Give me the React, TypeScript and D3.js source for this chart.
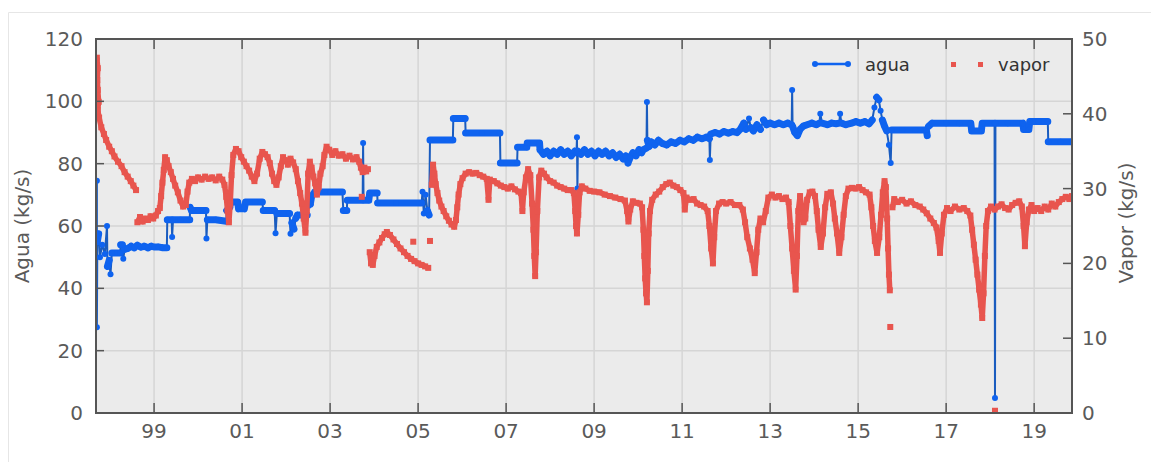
import React from 'react';
import * as d3 from 'd3';

const yearTicks = [1999, 2001, 2003, 2005, 2007, 2009, 2011, 2013, 2015, 2017, 2019];
const yearTickLabels = ['99', '01', '03', '05', '07', '09', '11', '13', '15', '17', '19'];
const aguaTicks = [0, 20, 40, 60, 80, 100, 120];
const vaporTicks = [0, 10, 20, 30, 40, 50];
const aguaGrid = [20, 40, 60, 80, 100];

// agua (kg/s), left axis: [year, value]
const agua: [number, number][] = [
  [1997.70, 74.5], [1997.70, 27.5], [1997.71, 55.0], [1997.74, 57.5], [1997.77, 50.0], [1997.82, 54.0],
  [1997.88, 51.0], [1997.93, 60.0], [1997.94, 47.0], [1997.98, 49.0], [1998.01, 44.5], [1998.04, 51.3],
  [1998.16, 51.3], [1998.23, 51.3], [1998.24, 54.0], [1998.28, 54.0], [1998.30, 49.5], [1998.33, 52.5],
  [1998.40, 52.8], [1998.48, 53.5], [1998.55, 53.0], [1998.62, 53.8], [1998.70, 53.2], [1998.78, 53.5],
  [1998.86, 53.0], [1998.93, 53.5], [1999.00, 53.3], [1999.10, 53.3], [1999.20, 53.0], [1999.29, 53.0],
  [1999.30, 62.0], [1999.40, 62.0], [1999.41, 56.5], [1999.43, 62.0], [1999.60, 62.0], [1999.81, 62.0],
  [1999.82, 66.0], [1999.85, 65.0], [2000.00, 65.0], [2000.18, 65.0], [2000.19, 56.0], [2000.21, 62.0],
  [2000.40, 62.0], [2000.64, 61.5], [2000.65, 65.0], [2000.72, 66.0], [2000.74, 67.7], [2000.90, 67.7],
  [2000.92, 65.5], [2001.05, 65.5], [2001.08, 67.7], [2001.30, 67.7], [2001.46, 67.7], [2001.48, 65.0],
  [2001.74, 65.0], [2001.76, 57.7], [2001.79, 64.0], [2002.08, 64.0], [2002.10, 57.5], [2002.13, 61.0],
  [2002.18, 59.0], [2002.22, 62.5], [2002.26, 63.5], [2002.48, 63.5], [2002.50, 66.5], [2002.55, 67.0],
  [2002.58, 69.5], [2002.65, 70.9], [2003.00, 70.9], [2003.28, 70.9], [2003.30, 65.0], [2003.38, 65.0],
  [2003.39, 68.3], [2003.74, 68.3], [2003.75, 86.6], [2003.76, 68.3], [2003.88, 68.3], [2003.90, 70.6],
  [2004.07, 70.6], [2004.08, 67.4], [2004.50, 67.4], [2005.08, 67.4], [2005.10, 71.0], [2005.13, 64.0],
  [2005.17, 70.0], [2005.21, 65.0], [2005.25, 63.5], [2005.27, 87.6], [2005.55, 87.6], [2005.79, 87.6],
  [2005.80, 94.5], [2006.07, 94.5], [2006.08, 89.8], [2006.45, 89.8], [2006.86, 89.8], [2006.87, 80.2],
  [2007.25, 80.2], [2007.26, 85.3], [2007.47, 85.3], [2007.48, 86.6], [2007.76, 86.6], [2007.77, 84.5],
  [2007.85, 83.0], [2007.93, 84.0], [2008.00, 82.5], [2008.08, 84.0], [2008.16, 83.0], [2008.24, 84.5],
  [2008.32, 83.0], [2008.40, 84.0], [2008.48, 82.5], [2008.56, 84.0], [2008.60, 83.5], [2008.61, 88.5],
  [2008.62, 72.0], [2008.63, 84.0], [2008.70, 83.0], [2008.78, 84.5], [2008.86, 83.0], [2008.94, 84.0],
  [2009.02, 82.5], [2009.10, 84.0], [2009.18, 83.0], [2009.26, 84.0], [2009.34, 82.5], [2009.42, 83.5],
  [2009.50, 82.0], [2009.58, 83.0], [2009.66, 81.5], [2009.72, 82.5], [2009.77, 80.2], [2009.82, 82.0],
  [2009.88, 83.5], [2009.95, 82.5], [2010.02, 84.5], [2010.08, 83.5], [2010.12, 84.5], [2010.19, 85.0],
  [2010.20, 99.8], [2010.21, 87.5], [2010.25, 85.5], [2010.30, 87.0], [2010.38, 86.0], [2010.46, 87.5],
  [2010.55, 86.5], [2010.65, 86.0], [2010.75, 87.0], [2010.85, 86.5], [2010.95, 87.5], [2011.05, 87.0],
  [2011.15, 88.0], [2011.25, 87.5], [2011.35, 88.5], [2011.45, 88.0], [2011.55, 88.5], [2011.62, 88.0],
  [2011.63, 81.2], [2011.65, 89.5], [2011.75, 90.0], [2011.85, 89.5], [2011.95, 90.3], [2012.05, 89.8],
  [2012.15, 90.3], [2012.25, 90.0], [2012.32, 91.0], [2012.40, 93.0], [2012.45, 91.0], [2012.52, 94.5],
  [2012.56, 91.5], [2012.62, 90.5], [2012.70, 92.5], [2012.78, 91.0], [2012.85, 94.0], [2012.92, 92.5],
  [2013.00, 93.0], [2013.10, 92.5], [2013.20, 93.0], [2013.30, 92.5], [2013.40, 93.0], [2013.49, 92.5],
  [2013.50, 103.6], [2013.51, 92.0], [2013.56, 90.0], [2013.62, 89.0], [2013.68, 91.0], [2013.75, 92.0],
  [2013.84, 92.5], [2013.95, 93.0], [2014.05, 92.5], [2014.12, 93.0], [2014.14, 96.0], [2014.18, 93.0],
  [2014.30, 92.5], [2014.40, 93.0], [2014.50, 92.8], [2014.57, 93.0], [2014.59, 96.0], [2014.62, 93.0],
  [2014.72, 92.5], [2014.85, 93.0], [2014.95, 93.5], [2015.05, 93.0], [2015.15, 93.5], [2015.25, 92.8],
  [2015.32, 94.0], [2015.37, 98.0], [2015.42, 101.3], [2015.47, 100.5], [2015.51, 97.0], [2015.55, 94.0],
  [2015.60, 92.0], [2015.65, 90.5], [2015.70, 86.0], [2015.74, 80.2], [2015.76, 90.8], [2016.00, 90.8],
  [2016.30, 90.8], [2016.55, 90.8], [2016.57, 89.0], [2016.60, 92.0], [2016.68, 93.0], [2017.00, 93.0],
  [2017.30, 93.0], [2017.56, 93.0], [2017.58, 90.5], [2017.80, 90.5], [2017.82, 93.0], [2018.10, 93.0],
  [2018.11, 4.8], [2018.12, 93.0], [2018.40, 93.0], [2018.74, 93.0], [2018.76, 91.0], [2018.88, 91.0],
  [2018.90, 93.5], [2019.10, 93.5], [2019.31, 93.5], [2019.32, 87.0], [2019.60, 87.0], [2019.86, 87.0],
];

// vapor (kg/s), right axis: [year, value]; null = gap between runs of dots
const vapor: ([number, number] | null)[] = [
  [1997.70, 47.5], [1997.72, 46.1], [1997.71, 44.5], [1997.72, 43.2], [1997.74, 41.6], [1997.72, 40.5],
  [1997.75, 39.5], [1997.80, 38.2], [1997.86, 37.3], [1997.91, 36.5], [1997.98, 35.6], [1998.04, 35.0],
  [1998.10, 34.3], [1998.18, 33.6], [1998.26, 33.0], [1998.33, 32.2], [1998.40, 31.6], [1998.47, 31.0],
  [1998.53, 30.4], [1998.59, 29.8], null,
  [1998.62, 25.5], [1998.68, 26.2], [1998.74, 25.6], [1998.80, 26.0], [1998.86, 25.8], [1998.92, 26.3],
  [1998.98, 26.0], [1999.04, 26.4], [1999.09, 27.0], [1999.13, 27.4], [1999.16, 29.0], [1999.19, 30.8],
  [1999.22, 32.5], [1999.25, 34.2], [1999.29, 33.8], [1999.33, 33.0], [1999.38, 32.2], [1999.43, 31.3],
  [1999.48, 30.4], [1999.54, 29.5], [1999.60, 28.4], [1999.66, 27.6], [1999.72, 27.8], [1999.76, 29.6],
  [1999.80, 30.8], [1999.86, 31.3], [1999.93, 31.0], [2000.00, 31.5], [2000.08, 31.2], [2000.16, 31.6],
  [2000.24, 31.3], [2000.32, 31.5], [2000.40, 31.1], [2000.48, 31.6], [2000.55, 31.2], [2000.60, 30.5],
  [2000.64, 28.9], [2000.67, 27.0], [2000.70, 25.5], [2000.73, 28.0], [2000.76, 31.8], [2000.80, 34.5],
  [2000.86, 35.3], [2000.92, 35.0], [2000.98, 34.2], [2001.04, 33.6], [2001.10, 33.0], [2001.16, 32.4],
  [2001.22, 31.6], [2001.28, 31.0], [2001.34, 32.0], [2001.40, 34.0], [2001.46, 34.9], [2001.52, 34.6],
  [2001.58, 34.2], [2001.63, 33.4], [2001.68, 32.0], [2001.73, 31.0], [2001.78, 30.5], [2001.83, 31.5],
  [2001.88, 33.0], [2001.93, 34.2], [2001.98, 33.8], [2002.04, 33.2], [2002.10, 34.0], [2002.16, 33.5],
  [2002.22, 32.6], [2002.27, 31.0], [2002.32, 29.4], [2002.36, 28.0], [2002.40, 26.0], [2002.44, 24.1],
  [2002.47, 27.0], [2002.50, 32.0], [2002.54, 33.6], [2002.58, 32.8], [2002.62, 31.6], [2002.66, 30.7],
  [2002.70, 29.2], [2002.74, 30.2], [2002.78, 32.0], [2002.83, 33.0], [2002.87, 34.5], [2002.92, 35.6],
  [2002.98, 35.2], [2003.05, 34.5], [2003.12, 35.0], [2003.20, 34.4], [2003.28, 34.6], [2003.36, 34.0],
  [2003.44, 34.4], [2003.52, 33.9], [2003.60, 34.2], [2003.66, 33.6], [2003.70, 32.8], [2003.74, 32.2],
  [2003.78, 32.8], [2003.82, 32.3], [2003.86, 32.6], null,
  [2003.72, 28.9], null,
  [2003.90, 21.5], [2003.93, 20.0], [2003.97, 19.8], [2004.01, 21.0], [2004.06, 22.2], [2004.12, 22.8],
  [2004.18, 23.4], [2004.24, 23.9], [2004.29, 24.2], [2004.36, 23.8], [2004.44, 23.2], [2004.52, 22.6],
  [2004.60, 22.0], [2004.68, 21.5], [2004.76, 21.0], [2004.84, 20.6], [2004.92, 20.3], [2005.00, 20.0],
  [2005.08, 19.8], [2005.16, 19.6], [2005.23, 19.4], null,
  [2004.89, 22.9], null,
  [2005.27, 23.0], null,
  [2005.31, 30.5], [2005.34, 33.2], [2005.37, 32.0], [2005.40, 30.6], [2005.44, 29.4], [2005.48, 28.4],
  [2005.53, 27.6], [2005.58, 27.0], [2005.64, 26.3], [2005.70, 25.7], [2005.76, 25.2], [2005.82, 24.9],
  [2005.86, 25.8], [2005.89, 27.5], [2005.92, 29.2], [2005.96, 30.6], [2006.01, 31.4], [2006.08, 32.0],
  [2006.16, 32.2], [2006.24, 32.0], [2006.32, 32.1], [2006.40, 31.8], [2006.48, 31.6], [2006.56, 31.3],
  [2006.60, 28.5], [2006.63, 31.2], [2006.72, 31.0], [2006.80, 30.7], [2006.88, 30.4], [2006.96, 30.2],
  [2007.04, 30.0], [2007.12, 30.3], [2007.20, 29.9], [2007.28, 29.6], [2007.34, 29.4], [2007.37, 27.0],
  [2007.40, 29.5], [2007.45, 31.5], [2007.50, 32.6], [2007.55, 31.8], [2007.59, 28.0], [2007.62, 24.5],
  [2007.64, 21.0], [2007.66, 18.3], [2007.68, 21.5], [2007.71, 27.0], [2007.75, 31.5], [2007.80, 32.4],
  [2007.86, 32.0], [2007.92, 31.5], [2008.00, 31.0], [2008.08, 30.8], [2008.16, 30.4], [2008.24, 30.2],
  [2008.32, 30.0], [2008.40, 29.8], [2008.48, 29.8], [2008.54, 29.4], [2008.57, 27.0], [2008.59, 25.0],
  [2008.61, 24.0], [2008.64, 26.5], [2008.67, 29.5], [2008.72, 30.3], [2008.80, 30.0], [2008.90, 29.7],
  [2009.00, 29.6], [2009.12, 29.5], [2009.24, 29.2], [2009.36, 29.0], [2009.48, 28.8], [2009.60, 28.6],
  [2009.70, 28.4], [2009.75, 27.0], [2009.78, 25.6], [2009.82, 27.2], [2009.88, 28.3], [2009.96, 28.1],
  [2010.04, 28.0], [2010.09, 27.5], [2010.12, 24.5], [2010.14, 21.0], [2010.16, 18.0], [2010.18, 16.0],
  [2010.20, 14.8], [2010.22, 19.0], [2010.24, 24.0], [2010.27, 27.0], [2010.32, 28.5], [2010.40, 29.2],
  [2010.48, 29.6], [2010.56, 30.2], [2010.64, 30.6], [2010.72, 30.8], [2010.80, 30.4], [2010.88, 30.2],
  [2010.96, 29.8], [2011.03, 29.4], [2011.06, 27.2], [2011.10, 28.8], [2011.18, 28.5], [2011.26, 28.6],
  [2011.34, 28.0], [2011.42, 27.8], [2011.50, 27.6], [2011.58, 27.0], [2011.62, 25.0], [2011.66, 22.0],
  [2011.70, 20.0], [2011.73, 23.5], [2011.77, 27.0], [2011.84, 28.0], [2011.92, 28.2], [2012.00, 28.0],
  [2012.10, 28.2], [2012.20, 27.8], [2012.30, 27.8], [2012.38, 27.2], [2012.43, 25.5], [2012.48, 23.5],
  [2012.54, 22.0], [2012.60, 20.5], [2012.65, 18.7], [2012.69, 21.5], [2012.73, 24.5], [2012.78, 26.0],
  [2012.84, 25.5], [2012.90, 27.0], [2012.96, 28.8], [2013.04, 29.2], [2013.12, 28.8], [2013.20, 29.0],
  [2013.28, 28.6], [2013.36, 28.8], [2013.42, 28.2], [2013.46, 25.0], [2013.50, 22.0], [2013.54, 19.0],
  [2013.58, 16.5], [2013.61, 21.0], [2013.64, 27.0], [2013.68, 29.0], [2013.72, 27.5], [2013.76, 25.5],
  [2013.80, 26.0], [2013.84, 28.5], [2013.90, 29.5], [2013.96, 29.6], [2014.02, 29.0], [2014.06, 27.0],
  [2014.10, 24.5], [2014.15, 22.2], [2014.20, 24.0], [2014.25, 27.5], [2014.30, 29.3], [2014.38, 29.5],
  [2014.43, 28.0], [2014.47, 26.0], [2014.52, 24.0], [2014.57, 21.4], [2014.62, 23.5], [2014.67, 26.5],
  [2014.72, 29.0], [2014.78, 30.0], [2014.86, 30.1], [2014.94, 30.0], [2015.02, 30.2], [2015.10, 29.8],
  [2015.18, 29.5], [2015.26, 29.2], [2015.30, 27.5], [2015.34, 25.0], [2015.38, 23.0], [2015.43, 21.4],
  [2015.48, 23.5], [2015.52, 26.5], [2015.56, 29.5], [2015.60, 31.0], [2015.63, 30.2], [2015.66, 26.0],
  [2015.68, 22.0], [2015.70, 18.5], [2015.72, 16.4], null,
  [2015.73, 11.5], null,
  [2015.78, 27.5], [2015.82, 28.6], [2015.90, 28.2], [2016.00, 28.5], [2016.10, 28.0], [2016.20, 28.3],
  [2016.30, 27.8], [2016.40, 27.6], [2016.48, 27.2], [2016.56, 26.7], [2016.64, 26.0], [2016.72, 25.4],
  [2016.78, 24.8], [2016.83, 23.0], [2016.86, 21.4], [2016.90, 24.0], [2016.95, 26.5], [2017.02, 27.4],
  [2017.10, 27.0], [2017.20, 27.6], [2017.30, 27.2], [2017.40, 27.4], [2017.48, 27.0], [2017.55, 26.4],
  [2017.59, 24.5], [2017.63, 22.5], [2017.67, 20.5], [2017.71, 18.5], [2017.75, 16.5], [2017.79, 14.5],
  [2017.82, 12.7], [2017.85, 16.0], [2017.88, 21.0], [2017.91, 25.0], [2017.95, 27.0], [2018.02, 27.6],
  [2018.10, 27.2], [2018.18, 27.6], [2018.26, 27.9], [2018.34, 27.4], [2018.42, 27.2], [2018.50, 27.8],
  [2018.58, 28.1], [2018.66, 28.3], [2018.72, 27.6], [2018.76, 25.0], [2018.79, 22.3], [2018.83, 25.5],
  [2018.88, 27.2], [2018.94, 27.8], [2019.00, 27.0], [2019.08, 27.4], [2019.16, 27.0], [2019.24, 27.6],
  [2019.32, 27.2], [2019.40, 28.0], [2019.48, 27.6], [2019.56, 28.2], [2019.64, 28.6], [2019.72, 28.9],
  [2019.80, 28.6], [2019.86, 29.0], null,
  [2018.11, 0.3],
];

const BLUE = '#0f63ef';
const BLUE_DARK = '#1a5cbf';
const RED = '#e8554e';
const TEXT = '#5a5a5a';
const FONT = 'DejaVu Sans, sans-serif';

export default function App() {
  const L = 96, R = 1072, T = 39, B = 413;
  const x = d3.scaleLinear().domain([1997.68, 2019.86]).range([L, R]);
  const yA = d3.scaleLinear().domain([0, 120]).range([B, T]);
  const yV = d3.scaleLinear().domain([0, 50]).range([B, T]);

  const aguaPath = d3.line<[number, number]>().x(d => x(d[0])).y(d => yA(d[1]))(agua) ?? '';
  const thick: string[] = [];
  for (let i = 1; i < agua.length; i++) {
    const x0 = x(agua[i - 1][0]), y0 = yA(agua[i - 1][1]);
    const x1 = x(agua[i][0]), y1 = yA(agua[i][1]);
    if (Math.abs(y1 - y0) <= 8) thick.push(`M${x0},${y0}L${x1},${y1}`);
  }
  const vaporPath = d3
    .line<[number, number] | null>()
    .defined(d => d !== null)
    .x(d => x((d as [number, number])[0]))
    .y(d => yV((d as [number, number])[1]))(vapor) ?? '';
  const vaporPts = vapor.filter(d => d !== null) as [number, number][];

  return (
    <svg width={1151} height={462} style={{ position: 'absolute', left: 0, top: 0 }} fontFamily={FONT}>
      <rect x={0} y={0} width={1151} height={462} fill="#ffffff" />
      <line x1={8.5} y1={12.5} x2={1151} y2={12.5} stroke="#e6e6e6" strokeWidth={1} />
      <line x1={8.5} y1={12.5} x2={8.5} y2={462} stroke="#e6e6e6" strokeWidth={1} />
      <defs>
        <clipPath id="plotclip">
          <rect x={L} y={T} width={R - L} height={B - T} />
        </clipPath>
      </defs>
      <rect x={L} y={T} width={R - L} height={B - T} fill="#ebebeb" />
      {yearTicks.map(t => (
        <line key={'gx' + t} x1={x(t)} x2={x(t)} y1={T} y2={B} stroke="#d5d5d5" strokeWidth={1.5} />
      ))}
      {aguaGrid.map(t => (
        <line key={'gy' + t} x1={L} x2={R} y1={yA(t)} y2={yA(t)} stroke="#d5d5d5" strokeWidth={1.5} />
      ))}
      <g clipPath="url(#plotclip)">
        <path d={aguaPath} fill="none" stroke={BLUE_DARK} strokeWidth={2} />
        <path d={thick.join('')} fill="none" stroke={BLUE} strokeWidth={7} strokeLinecap="round" />
        {agua.map((d, i) => (
          <circle key={'a' + i} cx={x(d[0])} cy={yA(d[1])} r={3} fill={BLUE} />
        ))}
        <path d={vaporPath} fill="none" stroke={RED} strokeWidth={5.5} strokeLinejoin="round" />
        {vaporPts.map((d, i) => (
          <rect key={'v' + i} x={x(d[0]) - 3} y={yV(d[1]) - 3} width={6} height={6} fill={RED} />
        ))}
      </g>
      {aguaTicks.map(t => (
        <line key={'lt' + t} x1={L} x2={L + 8} y1={yA(t)} y2={yA(t)} stroke="#555" strokeWidth={1.5} />
      ))}
      {vaporTicks.map(t => (
        <line key={'rt' + t} x1={R - 9} x2={R} y1={yV(t)} y2={yV(t)} stroke="#555" strokeWidth={1.5} />
      ))}
      {yearTicks.map(t => (
        <g key={'bt' + t}>
          <line x1={x(t)} x2={x(t)} y1={B} y2={B - 10} stroke="#555" strokeWidth={1.5} />
          <line x1={x(t)} x2={x(t)} y1={T} y2={T + 10} stroke="#555" strokeWidth={1.5} />
        </g>
      ))}
      <rect x={L} y={T} width={R - L} height={B - T} fill="none" stroke="#555" strokeWidth={2} />
      {aguaTicks.map(t => (
        <text key={'ll' + t} x={83} y={yA(t)} textAnchor="end" dominantBaseline="central" fontSize={20} fill={TEXT}>
          {t}
        </text>
      ))}
      {vaporTicks.map(t => (
        <text key={'rl' + t} x={1082} y={yV(t)} textAnchor="start" dominantBaseline="central" fontSize={20} fill={TEXT}>
          {t}
        </text>
      ))}
      {yearTicks.map((t, i) => (
        <text key={'bl' + t} x={x(t)} y={438} textAnchor="middle" fontSize={20} fill={TEXT}>
          {yearTickLabels[i]}
        </text>
      ))}
      <text transform="translate(22,226) rotate(-90)" textAnchor="middle" dominantBaseline="central" fontSize={20} fill={TEXT}>
        Agua (kg/s)
      </text>
      <text transform="translate(1126,223) rotate(-90)" textAnchor="middle" dominantBaseline="central" fontSize={20} fill={TEXT}>
        Vapor (kg/s)
      </text>
      <line x1={815} x2={848} y1={64} y2={64} stroke={BLUE} strokeWidth={2.5} />
      <circle cx={815} cy={64} r={3} fill={BLUE} />
      <circle cx={848} cy={64} r={3} fill={BLUE} />
      <text x={865} y={64} dominantBaseline="central" fontSize={18} fill="#333">agua</text>
      <rect x={951} y={62} width={5} height={5} fill={RED} />
      <rect x={978} y={62} width={5} height={5} fill={RED} />
      <text x={998} y={64} dominantBaseline="central" fontSize={18} fill="#333">vapor</text>
    </svg>
  );
}
